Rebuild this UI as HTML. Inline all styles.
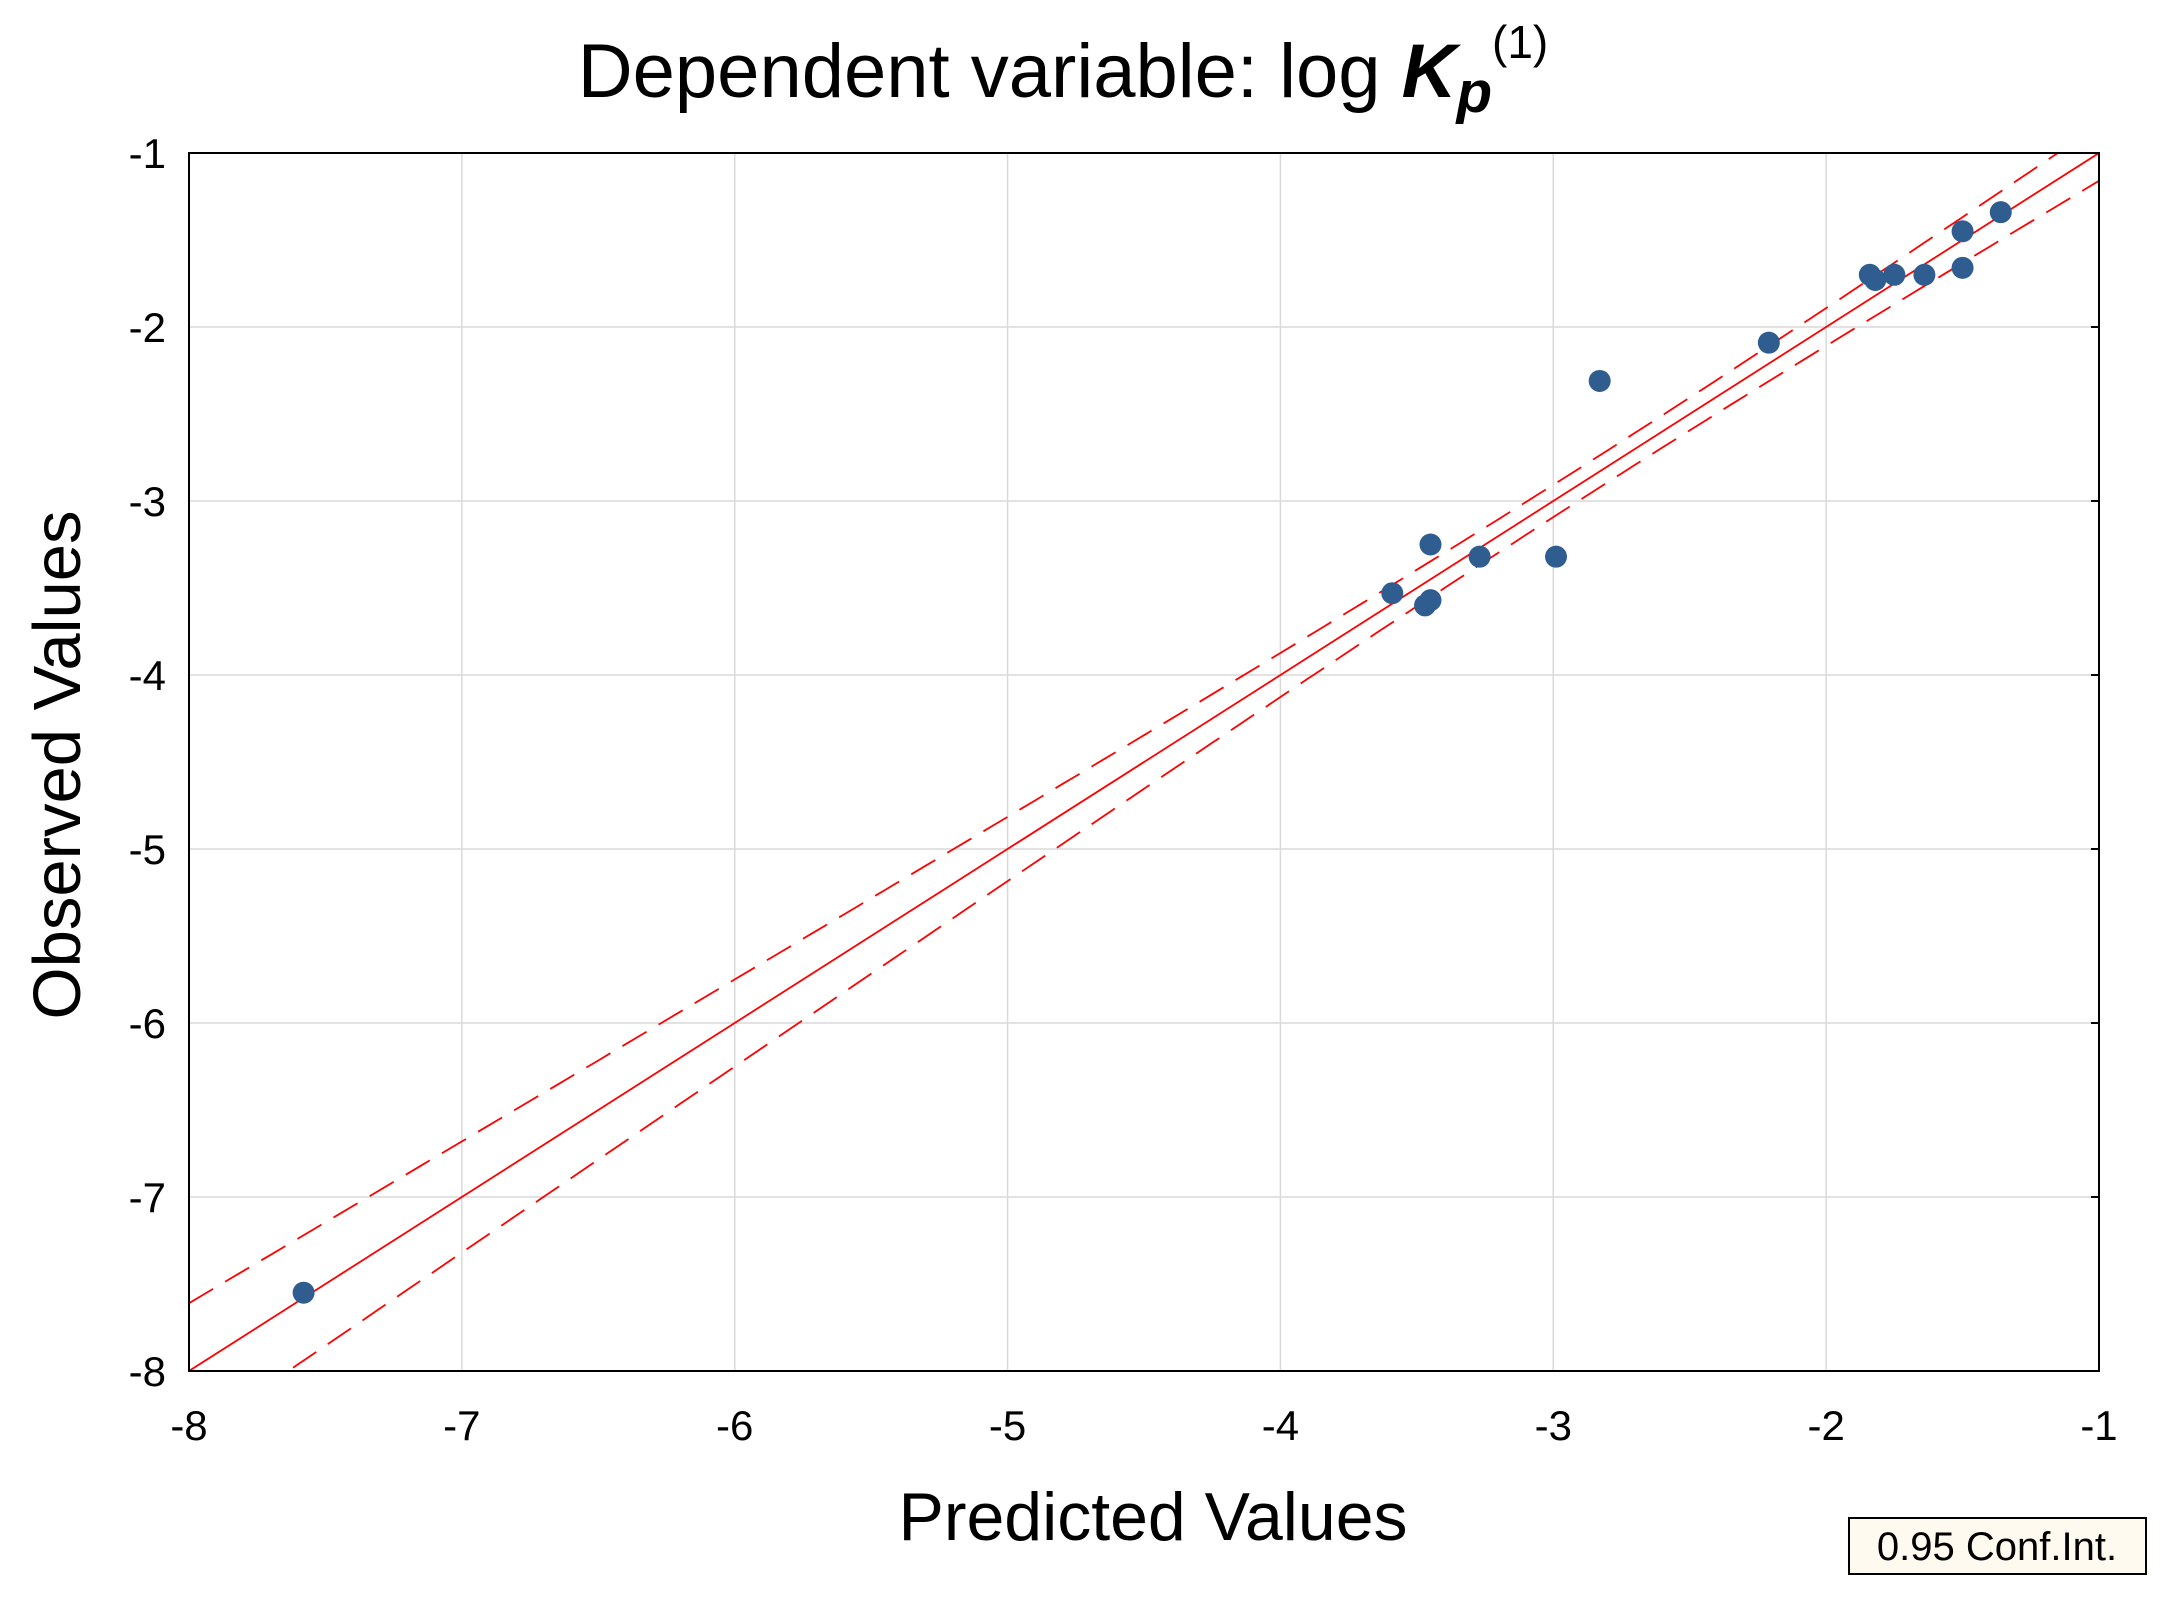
<!DOCTYPE html>
<html><head><meta charset="utf-8"><style>
html,body{margin:0;padding:0;background:#fff;}
svg{display:block;font-family:"Liberation Sans",Arial,sans-serif;}
</style></head><body>
<svg id="chart" width="2166" height="1598" viewBox="0 0 2166 1598">
<text x="1063" y="97" text-anchor="middle" font-size="76">Dependent variable: log <tspan font-weight="bold" font-style="italic">K</tspan><tspan font-weight="bold" font-style="italic" font-size="58" dy="15">p</tspan><tspan font-size="46" dy="-54">(1)</tspan></text>
<g id="grid"></g>
<g id="bands"></g>
<g id="points"></g>
<rect x="189" y="153" width="1910" height="1218" fill="none" stroke="#000" stroke-width="2"/>
<g id="xticks"></g>
<g id="yticks"></g>
<text x="1153" y="1540" text-anchor="middle" font-size="68">Predicted Values</text>
<text transform="translate(80,765) rotate(-90)" text-anchor="middle" font-size="67">Observed Values</text>
<g>
<rect x="1849" y="1518" width="297" height="56" fill="#fffaf0" stroke="#000" stroke-width="2"/>
<text x="1997" y="1560" text-anchor="middle" font-size="40">0.95 Conf.Int.</text>
</g>
</svg>
<script>
const xTicks = [-8,-7,-6,-5,-4,-3,-2,-1];
const yTicks = [-1,-2,-3,-4,-5,-6,-7,-8];
const predicted = [-7.58,-3.59,-3.47,-3.45,-3.45,-3.27,-2.99,-2.83,-2.21,-1.84,-1.82,-1.75,-1.64,-1.50,-1.50,-1.36];
const observed  = [-7.55,-3.53,-3.60,-3.57,-3.25,-3.32,-3.32,-2.31,-2.09,-1.70,-1.73,-1.70,-1.70,-1.45,-1.66,-1.34];
const fitLine = [0, 1]; // intercept, slope
const bandParams = [0.0084, 0.00531, -2.8]; // a, b, xmean

const X0=189,X1=2099,Y0=153,Y1=1371;
const sx=v=>X0+(v+8)/7*(X1-X0);
const sy=v=>Y0+(-1-v)/7*(Y1-Y0);
const NS='http://www.w3.org/2000/svg';
function mk(tag,attrs,parent){const e=document.createElementNS(NS,tag);for(const k in attrs)e.setAttribute(k,attrs[k]);parent.appendChild(e);return e;}
const grid=document.getElementById('grid'),xt=document.getElementById('xticks'),yt=document.getElementById('yticks');
xTicks.forEach(v=>{
  const l=mk('line',{x1:sx(v),x2:sx(v),y1:Y0,y2:Y1,stroke:'#d9d9d9','stroke-width':1.5},grid);
  
  
  const t=mk('text',{x:sx(v),y:1440,'text-anchor':'middle','font-size':42},xt);
  t.textContent=v;
  
  
});
yTicks.forEach(v=>{
  const l=mk('line',{x1:X0,x2:X1,y1:sy(v),y2:sy(v),stroke:'#d9d9d9','stroke-width':1.5},grid);
  
  
  const k=mk('line',{x1:X1-8,x2:X1,y1:sy(v),y2:sy(v),stroke:'#000','stroke-width':2},grid);
  
  
  const t=mk('text',{x:166,y:sy(v)+15,'text-anchor':'end','font-size':42},yt);
  t.textContent=v;
  
  
});
const bands=document.getElementById('bands');
const cp=mk('clipPath',{id:'clip'},bands);
mk('rect',{x:X0,y:Y0,width:X1-X0,height:Y1-Y0},cp);
const fit=v=>fitLine[0]+fitLine[1]*v;
const hw=v=>Math.sqrt(bandParams[0]+bandParams[1]*(v-bandParams[2])**2);
const fl=mk('line',{x1:sx(-8),y1:sy(fit(-8)),x2:sx(-1),y2:sy(fit(-1)),stroke:'#ff0000','stroke-width':1.8,'clip-path':'url(#clip)'},bands);


[1,-1].forEach(s=>{
  let d='';
  for(let i=0;i<=140;i++){const v=-8+i*0.05;d+=(i?'L':'M')+sx(v).toFixed(1)+','+sy(fit(v)+s*hw(v)).toFixed(1);}
  const p=mk('path',{d:d,fill:'none',stroke:'#ff0000','stroke-width':1.8,'stroke-dasharray':'28,14','clip-path':'url(#clip)'},bands);
  
  
});
const pts=document.getElementById('points');
predicted.forEach((v,i)=>{
  const c=mk('circle',{cx:sx(v),cy:sy(observed[i]),r:11,fill:'#2f5d8f'},pts);
  
  
});
</script>
</body></html>
